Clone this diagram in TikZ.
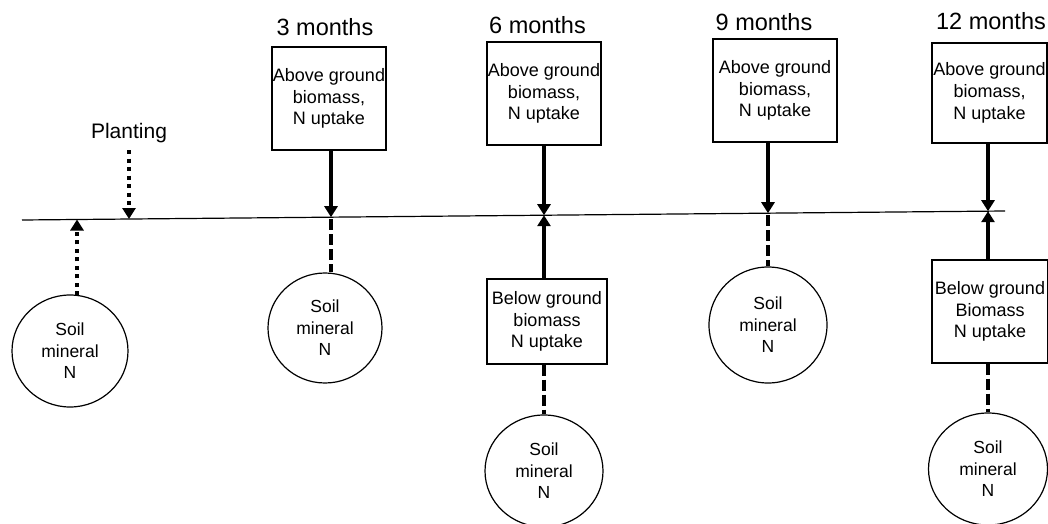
\documentclass[tikz,border=0pt]{standalone}
\usepackage{fontspec}
\setmainfont{Liberation Sans}
\usetikzlibrary{arrows.meta,shapes.geometric}

\tikzset{
  tip/.style={-{Triangle[width=13pt,length=11pt]}},
  timeline/.style={line width=1.2pt},
  datebox/.style={draw, line width=1.2pt, inner sep=0pt, align=center,
    font=\fontsize{18}{21.8}\selectfont},
  soil/.style={draw, ellipse, line width=1.2pt, inner sep=0pt, align=center,
    font=\fontsize{17.5}{21.5}\selectfont},
  period/.style={font=\fontsize{23.5}{26}\selectfont, inner sep=0pt},
  planting/.style={font=\fontsize{21}{24}\selectfont, inner sep=0pt},
  solidarrow/.style={tip, line width=3.8pt},
  dashlink/.style={line width=3.8pt, dash pattern=on 11pt off 4pt},
  dotarrow/.style={tip, line width=3.5pt, dash pattern=on 4pt off 4.5pt},
}

\begin{document}
\begin{tikzpicture}[x=1pt, y=-1pt]
  \useasboundingbox (0,0) rectangle (1048,524);

  % time axis
  \coordinate (t0) at (22,220);
  \coordinate (t1) at (1005,211);
  \draw[timeline] (t0) -- (t1);

  % points where the arrows meet the axis
  \coordinate (g0)  at (77,219.5);
  \coordinate (gp)  at (129,219);
  \coordinate (g3)  at (331,217.2);
  \coordinate (g6)  at (544,215.2);
  \coordinate (g9)  at (768,213.2);
  \coordinate (g12) at (988,211.2);

  % planting
  \node[planting, anchor=south] (plant) at (129,143) {Planting};
  \coordinate (ps) at (129,150);
  \draw[dotarrow] (ps) -- (gp);

  % initial soil mineral N
  \node[soil, minimum width=116pt, minimum height=112pt] (C0) at (70,351) {Soil\\mineral\\N};
  \draw[dotarrow] (g0 |- C0.north) ++(0,1) -- (g0);

  % period labels
  \node[period] (m3)  at (325,27)   {3 months};
  \node[period] (m6)  at (537.5,25.5) {6 months};
  \node[period] (m9)  at (764,22)   {9 months};
  \node[period] (m12) at (991,21.5) {12 months};

  % above ground boxes
  \node[datebox, minimum width=114pt, minimum height=103pt] (A3)  at (329,98.5)  {Above ground\\biomass,\\N uptake};
  \node[datebox, minimum width=114pt, minimum height=103pt] (A6)  at (544,93.5)  {Above ground\\biomass,\\N uptake};
  \node[datebox, minimum width=124pt, minimum height=103pt] (A9)  at (775,90.5)  {Above ground\\biomass,\\N uptake};
  \node[datebox, minimum width=115pt, minimum height=100pt] (A12) at (989.5,93) {Above ground\\biomass,\\N uptake};

  \draw[solidarrow] (A3.south -| g3) -- (g3);
  \draw[solidarrow] (A6.south -| g6) -- (g6);
  \draw[solidarrow] (A9.south -| g9) -- (g9);
  \draw[solidarrow] (A12.south -| g12) -- (g12);

  % below ground boxes
  \node[datebox, minimum width=120pt, minimum height=85pt]  (B6)  at (547,321.5) {Below ground\\biomass\\N uptake};
  \node[datebox, minimum width=116pt, minimum height=103pt] (B12) at (990,311.5) {Below ground\\Biomass\\N uptake};

  \draw[solidarrow] (g6 |- B6.north) -- (g6);
  \draw[solidarrow] (g12 |- B12.north) -- (g12);

  % soil mineral N at each date
  \node[soil, minimum width=114pt, minimum height=110pt] (C3)  at (325,328) {Soil\\mineral\\N};
  \node[soil, minimum width=118pt, minimum height=116pt] (C9)  at (768,325) {Soil\\mineral\\N};
  \node[soil, minimum width=118pt, minimum height=112pt] (C6)  at (544,471) {Soil\\mineral\\N};
  \node[soil, minimum width=119pt, minimum height=112pt] (C12) at (988,469) {Soil\\mineral\\N};

  \draw[dashlink] (g3) ++(0,2) -- (g3 |- C3.north);
  \draw[dashlink] (g9) ++(0,2) -- (g9 |- C9.north);
  \draw[dashlink] (B6.south -| C6.north) -- (C6.north);
  \draw[dashlink] (B12.south -| C12.north) -- (C12.north);
\end{tikzpicture}
\end{document}
